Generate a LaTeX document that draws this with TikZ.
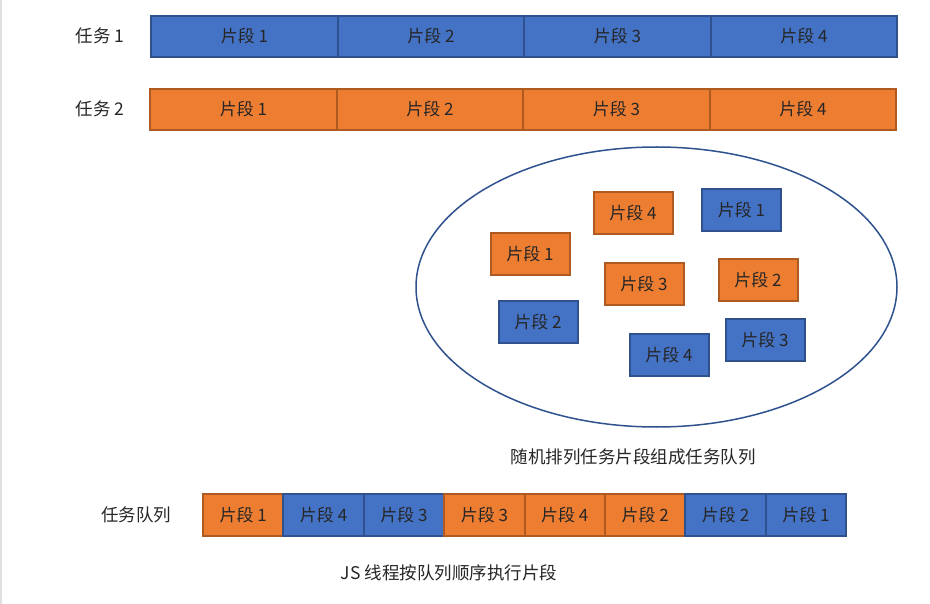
\documentclass[tikz,border=0pt]{standalone}
\usepackage{fontspec}
\setmainfont{Noto Sans CJK SC}
\usetikzlibrary{positioning}
\definecolor{bluefill}{HTML}{4472C4}
\definecolor{blueline}{HTML}{2F528F}
\definecolor{orangefill}{HTML}{ED7D31}
\definecolor{orangeline}{HTML}{AE5A21}
\definecolor{txt}{HTML}{262626}
\tikzset{
  seg/.style={draw, line width=2pt, minimum height=41pt, inner sep=0pt, text=txt, font=\fontsize{17}{17}\selectfont},
  bseg/.style={seg, fill=bluefill, draw=blueline},
  oseg/.style={seg, fill=orangefill, draw=orangeline},
  wide/.style={minimum width=186.5pt},
  small/.style={minimum width=79pt, minimum height=42pt},
  qbox/.style={minimum width=80.4pt, minimum height=42pt},
  lbl/.style={text=txt, inner sep=0pt, font=\fontsize{17.5}{17.5}\selectfont},
}
\begin{document}
\begin{tikzpicture}[x=1pt,y=-1pt]
\useasboundingbox (0,0) rectangle (930,604);
\fill[white] (0,0) rectangle (930,604);
\draw[black!12, line width=1.5pt] (1,0) -- (1,604);
% task 1
\node[lbl] (t1) at (100,36) {任务 1};
\node[bseg,wide] (a1) at (244.5,36.5) {片段 1};
\node[bseg,wide] (a2) at (431,36.5) {片段 2};
\node[bseg,wide] (a3) at (617.5,36.5) {片段 3};
\node[bseg,wide] (a4) at (804,36.5) {片段 4};
% task 2
\node[lbl] (t2) at (100,109) {任务 2};
\node[oseg,wide] (b1) at (243.5,109.5) {片段 1};
\node[oseg,wide] (b2) at (430,109.5) {片段 2};
\node[oseg,wide] (b3) at (616.5,109.5) {片段 3};
\node[oseg,wide] (b4) at (803,109.5) {片段 4};
% pool
\draw[blueline, line width=1.5pt] (656.5,287) ellipse [x radius=240.5, y radius=140];
\node[oseg,small] (p1) at (633,213.5) {片段 4};
\node[bseg,small] (p2) at (741.5,210) {片段 1};
\node[oseg,small] (p3) at (530,254) {片段 1};
\node[oseg,small] (p4) at (644,284) {片段 3};
\node[oseg,small] (p5) at (758,280) {片段 2};
\node[bseg,small] (p6) at (538,322) {片段 2};
\node[bseg,small] (p7) at (669,355) {片段 4};
\node[bseg,small] (p8) at (765,340) {片段 3};
\node[lbl] (cap1) at (633,457) {随机排列任务片段组成任务队列};
% queue
\node[lbl] (tq) at (136,515) {任务队列};
\node[oseg,qbox] (q1) at (243.2,515) {片段 1};
\node[bseg,qbox] (q2) at (323.6,515) {片段 4};
\node[bseg,qbox] (q3) at (404,515) {片段 3};
\node[oseg,qbox] (q4) at (484.4,515) {片段 3};
\node[oseg,qbox] (q5) at (564.8,515) {片段 4};
\node[oseg,qbox] (q6) at (645.2,515) {片段 2};
\node[bseg,qbox] (q7) at (725.6,515) {片段 2};
\node[bseg,qbox] (q8) at (806,515) {片段 1};
\node[lbl] (cap2) at (449,573) {JS 线程按队列顺序执行片段};
\end{tikzpicture}
\end{document}
